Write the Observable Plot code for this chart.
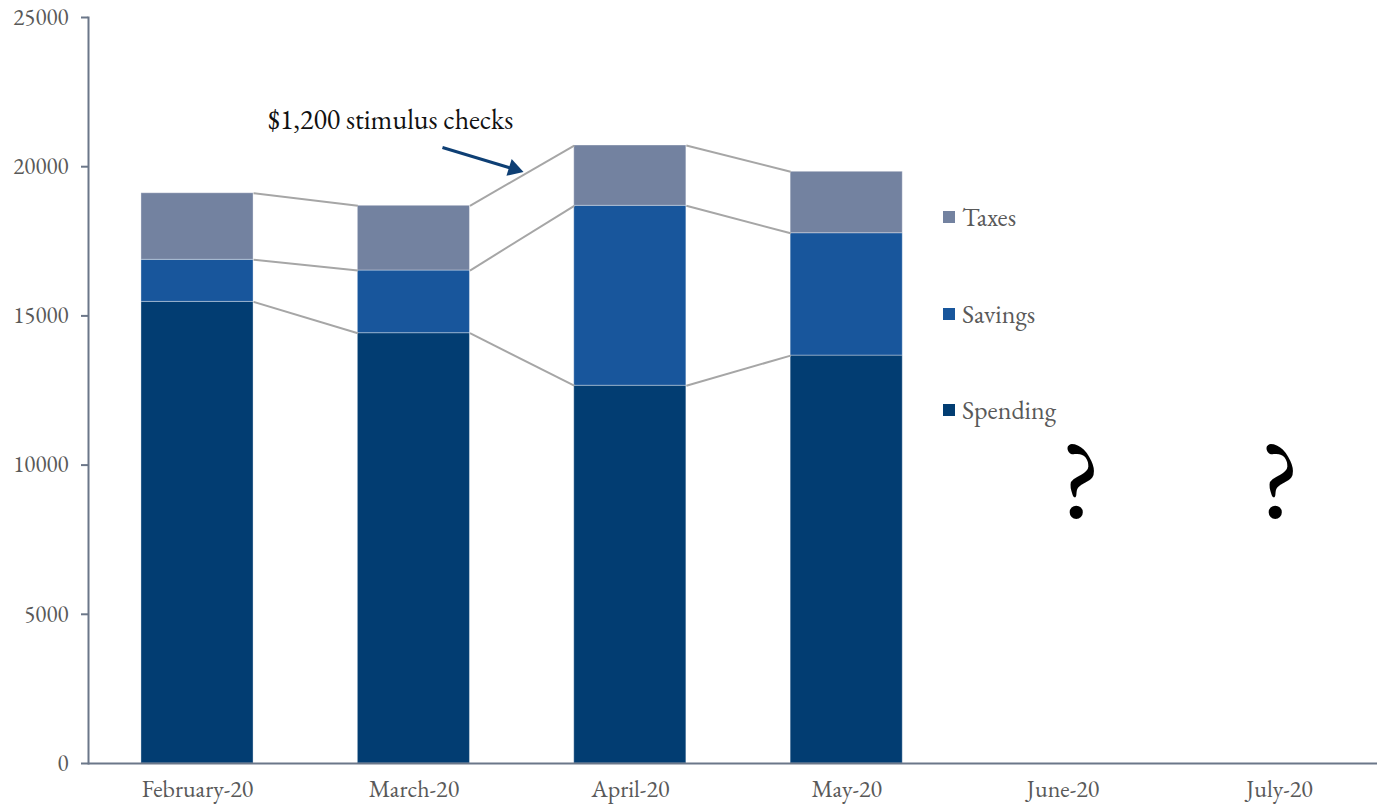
<!DOCTYPE html>
<html>
<head>
<meta charset="utf-8">
<script src="https://cdn.jsdelivr.net/npm/d3@7"></script>
<script src="https://cdn.jsdelivr.net/npm/@observablehq/plot@0.6"></script>
<style>
  html, body { margin: 0; padding: 0; background: #fff; }
  #wrap { position: relative; width: 1377px; height: 805px; overflow: hidden; }
  #legend { position: absolute; left: 943px; top: 0; font-family: Garamond, "EB Garamond", "Liberation Serif", serif; color: #595959; font-size: 26px; }
  .item { position: absolute; left: 0; white-space: nowrap; display: flex; align-items: center; }
  .sw { width: 12px; height: 12px; display: inline-block; margin-right: 7px; }
</style>
</head>
<body>
<div id="wrap"><div id="legend"></div></div>
<script>
// ---- data ----
const months = ["February-20", "March-20", "April-20", "May-20", "June-20", "July-20"];
const spending = [15470, 14420, 12660, 13670];
const savings = [1410, 2100, 6030, 4100];
const taxes = [2230, 2170, 2020, 2060];
const seriesNames = ["Spending", "Savings", "Taxes"];
const seriesColors = ["#023d72", "#18569c", "#7382a0"];
const yTicks = [0, 5000, 10000, 15000, 20000, 25000];
const annotationText = "$1,200 stimulus checks";
const annotationPos = {x: 0.892, y: 21550};
const arrowLine = {x1: 1.132, y1: 20643, x2: 1.446, y2: 19956};
const arrowHead = {x: 1.462, y: 19925, angle: 107.4};
const unknownMonths = [{x: 4.08, y: 9450}, {x: 5.0, y: 9450}];

// ---- derived table ----
const half = 0.259;
const seriesValues = [spending, savings, taxes];
const rects = [];
const tops = seriesNames.map(() => []);
spending.forEach((_, i) => {
  let base = 0;
  seriesValues.forEach((vals, s) => {
    rects.push({i, series: seriesNames[s], y1: base, y2: base + vals[i]});
    base += vals[i];
    tops[s].push(base);
  });
});
const links = [];
tops.forEach(t => {
  for (let i = 0; i + 1 < t.length; i++) links.push({x1: i + half, x2: i + 1 - half, y1: t[i], y2: t[i + 1]});
});

const font = 'Garamond, "EB Garamond", "Liberation Serif", serif';

const chart = Plot.plot({
  width: 1377,
  height: 805,
  marginLeft: 88,
  marginRight: 0,
  marginTop: 17,
  marginBottom: 42,
  style: {fontFamily: font, background: "#fff"},
  x: {domain: [-0.5, 5.5], range: [88.8, 1387.2]},
  y: {domain: [0, 25000]},
  color: {domain: seriesNames, range: seriesColors},
  marks: [
    Plot.rectY(rects, {x1: d => d.i - half, x2: d => d.i + half, y1: "y1", y2: "y2", fill: "series", stroke: "#ffffff", strokeOpacity: 0.35, strokeWidth: 1}),
    Plot.link(links, {x1: "x1", x2: "x2", y1: "y1", y2: "y2", stroke: "#a6a6a6", strokeWidth: 2}),
    Plot.axisY({ticks: yTicks, tickSize: 7, tickPadding: 13, tickFormat: d => String(d), fontSize: 23, stroke: "#6b7789", strokeWidth: 2, fill: "#595959", label: null}),
    Plot.axisX({ticks: d3.range(months.length), tickFormat: i => months[i], tickSize: 0, tickPadding: 16, fontSize: 24, fill: "#595959", label: null}),
    Plot.frame({anchor: "left", stroke: "#6b7789", strokeWidth: 2}),
    Plot.ruleY([0], {stroke: "#6b7789", strokeWidth: 2}),
    Plot.text([annotationPos], {x: "x", y: "y", text: () => annotationText, fontSize: 28, fill: "#111", textAnchor: "middle"}),
    Plot.link([arrowLine], {x1: "x1", y1: "y1", x2: "x2", y2: "y2", stroke: "#0e3f74", strokeWidth: 3}),
    Plot.dot([arrowHead], {x: "x", y: "y", symbol: "triangle", r: 6.5, rotate: "angle", fill: "#0e3f74", stroke: "none"}),
    Plot.text(unknownMonths, {x: "x", y: "y", text: () => "?", fontSize: 110, fill: "#000"})
  ]
});
document.getElementById("wrap").prepend(chart);

// legend (HTML, over the svg)
const legend = document.getElementById("legend");
const legendTops = [410, 314, 217];
seriesNames.forEach((name, s) => {
  const it = document.createElement("div");
  it.className = "item";
  it.style.top = (legendTops[s] - 15) + "px";
  it.style.height = "30px";
  const sw = document.createElement("span");
  sw.className = "sw";
  sw.style.background = seriesColors[s];
  it.appendChild(sw);
  it.appendChild(document.createTextNode(name));
  legend.appendChild(it);
});
</script>
</body>
</html>
